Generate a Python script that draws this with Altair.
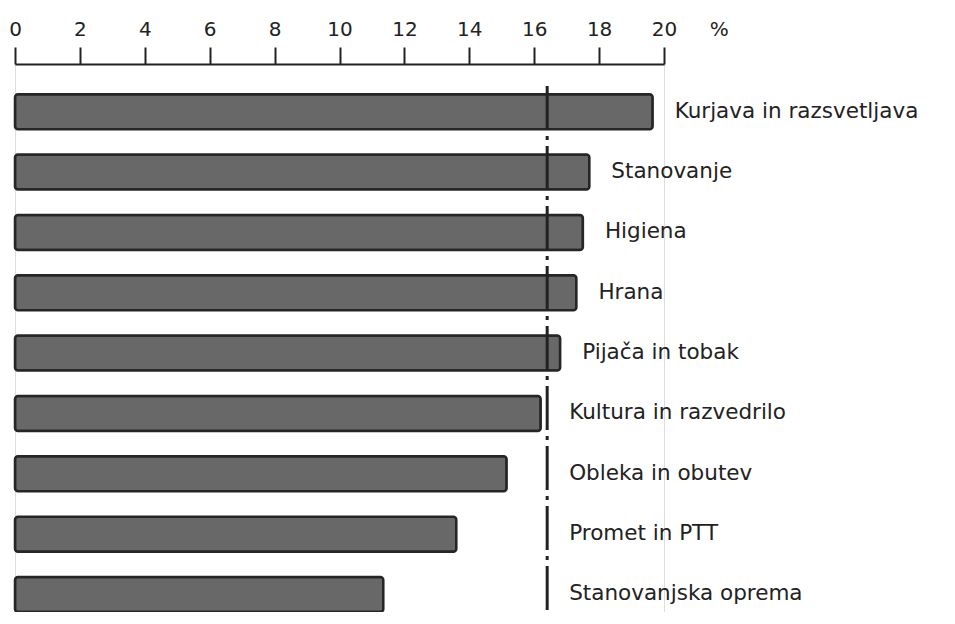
import altair as alt
import pandas as pd

categories = [
    "Kurjava in razsvetljava",
    "Stanovanje",
    "Higiena",
    "Hrana",
    "Pijača in tobak",
    "Kultura in razvedrilo",
    "Obleka in obutev",
    "Promet in PTT",
    "Stanovanjska oprema",
]
values = [19.65, 17.7, 17.5, 17.3, 16.8, 16.2, 15.15, 13.6, 11.35]
average = [16.4]
tick_values = [0, 2, 4, 6, 8, 10, 12, 14, 16, 18, 20]
unit_label = "%"

df = pd.DataFrame({"kategorija": categories, "delez": values})
avg_df = pd.DataFrame({"povprecje": average})

FONT = "DejaVu Sans"
INK = "#222222"

x_scale = alt.Scale(domain=[0, 20], nice=False, zero=True)
y_scale = alt.Scale(paddingInner=0.42, paddingOuter=0.25, align=1)

base = alt.Chart(df)

bars = base.mark_bar(
    fill="#686868", stroke="#262626", strokeWidth=2.5, cornerRadius=3
).encode(
    x=alt.X(
        "delez:Q",
        scale=x_scale,
        axis=alt.Axis(
            orient="top",
            values=tick_values,
            title=None,
            grid=False,
            labelFont=FONT,
            labelFontSize=20,
            labelColor=INK,
            labelPadding=8,
            labelFlush=False,
            tickSize=17,
            tickWidth=2,
            tickColor=INK,
            domainColor=INK,
            domainWidth=2,
        ),
    ),
    y=alt.Y("kategorija:N", sort=None, scale=y_scale, axis=None),
)

labels = base.transform_calculate(
    lx="max(datum.delez, %f)" % average[0]
).mark_text(
    align="left", baseline="middle", dx=22, font=FONT, fontSize=21.5, color=INK
).encode(
    x=alt.X("lx:Q", scale=x_scale),
    y=alt.Y("kategorija:N", sort=None, scale=y_scale, axis=None),
    text="kategorija:N",
)

rule = alt.Chart(avg_df).mark_rule(
    color=INK, strokeWidth=3, strokeDash=[44, 6, 4, 6]
).encode(
    x=alt.X("povprecje:Q", scale=x_scale),
    y=alt.value(22),
    y2=alt.value(548),
)

percent = alt.Chart(avg_df).mark_text(
    text=unit_label, align="center", baseline="alphabetic",
    font=FONT, fontSize=20, color=INK
).encode(
    x=alt.datum(21.7),
    y=alt.value(-28),
)

chart = alt.layer(bars, rule, labels, percent).properties(
    width=649,
    height=548,
    padding={"left": 7, "top": 56, "right": 280, "bottom": 0},
    autosize=alt.AutoSizeParams(type="none"),
).configure_view(stroke="transparent", fill="white").configure_axis(grid=False).configure(background="white")

chart.save("out.html", embed_options={"renderer": "svg", "actions": False})
